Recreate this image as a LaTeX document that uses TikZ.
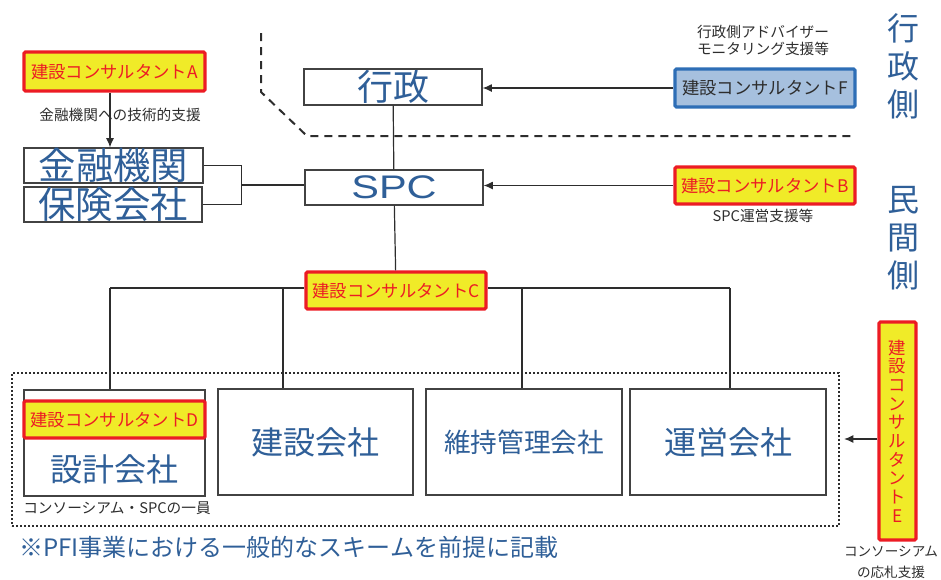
\documentclass[tikz,border=0pt]{standalone}
\usepackage{fontspec}
\setmainfont{Noto Sans CJK JP}
\newfontfamily\latinfont{Liberation Sans}
\usetikzlibrary{arrows.meta,calc}
\definecolor{txtblue}{RGB}{47,95,152}
\definecolor{cred}{RGB}{236,28,36}
\definecolor{cyellow}{RGB}{240,235,40}
\definecolor{fblue}{RGB}{166,192,222}
\definecolor{fborder}{RGB}{46,110,182}
\definecolor{lin}{RGB}{45,45,45}
\newcommand{\fs}[1]{\fontsize{#1}{#1}\selectfont}
\tikzset{
  entity/.style={draw=lin!90, line width=0.9pt, fill=white, inner sep=0pt, text=txtblue},
  consult/.style={draw=cred, line width=2.4pt, fill=cyellow, rounded corners=1pt, inner sep=0pt, text=cred, font=\fs{13}},
  consultF/.style={draw=fborder, line width=2.4pt, fill=fblue, rounded corners=1pt, inner sep=0pt, text=lin, font=\fs{13}},
  conn/.style={draw=lin, line width=0.9pt},
  arr/.style={conn, -{Latex[length=7pt,width=6pt]}},
  small/.style={inner sep=0pt, text=lin, font=\fs{11}},
}
\begin{document}
\begin{tikzpicture}[x=0.75pt,y=-0.75pt]
\useasboundingbox (0,0) rectangle (941,579);
% boundary line between public and private side
\draw[lin, line width=1.5pt, dash pattern=on 6pt off 4.5pt] (261,33) -- (261,92) -- (307,136) -- (852,136);
% consortium dotted box
\node[draw=lin, line width=1.6pt, dash pattern=on 1.4pt off 1.6pt, minimum width=827*0.75pt, minimum height=153*0.75pt, inner sep=0pt] (cons) at (425.5,449.5) {};
% main nodes
\node[entity, minimum width=178*0.75pt, minimum height=36*0.75pt, font=\fs{27}] (gyosei) at (393,87) {行政};
\node[entity, minimum width=178*0.75pt, minimum height=35*0.75pt, font=\latinfont\fs{24.5}] (spc) at (394,187.5) {\scalebox{1.27}[1]{SPC}};
\node[entity, minimum width=179*0.75pt, minimum height=35*0.75pt, font=\fs{28}] (kinyu) at (113.5,165.5) {金融機関};
\node[entity, minimum width=178*0.75pt, minimum height=35*0.75pt, font=\fs{28}] (hoken) at (113,204.5) {保険会社};
\node[entity, minimum width=181*0.75pt, minimum height=106*0.75pt] (sekkei) at (114.5,443) {};
\node[inner sep=0pt, text=txtblue, font=\fs{24}] (sekkeiT) at (114.5,469) {設計会社};
\node[entity, minimum width=195*0.75pt, minimum height=106*0.75pt, font=\fs{24}] (kensetsu) at (315.5,442) {建設会社};
\node[entity, minimum width=196*0.75pt, minimum height=106*0.75pt, font=\fs{20}] (iji) at (524,442) {維持管理会社};
\node[entity, minimum width=196*0.75pt, minimum height=106*0.75pt, font=\fs{24}] (unei) at (728,442) {運営会社};
% consultants
\node[consultF, minimum width=180*0.75pt, minimum height=38*0.75pt] (cF) at (765,88) {建設コンサルタントF};
\node[consult, minimum width=180*0.75pt, minimum height=37*0.75pt] (cB) at (765,185.5) {建設コンサルタントB};
\node[consult, minimum width=181*0.75pt, minimum height=39*0.75pt] (cA) at (114.5,71.5) {建設コンサルタントA};
\node[consult, minimum width=180*0.75pt, minimum height=37*0.75pt] (cC) at (396,290.5) {建設コンサルタントC};
\node[consult, minimum width=181*0.75pt, minimum height=37*0.75pt] (cD) at (114.5,419.5) {建設コンサルタントD};
\node[consult, minimum width=37*0.75pt, minimum height=218*0.75pt, align=center, font=\fontsize{13}{14}\selectfont] (cE) at (897.5,431) {建\\設\\コ\\ン\\サ\\ル\\タ\\ン\\ト\\E};
% side labels
\node[inner sep=0pt, text=txtblue, align=center, font=\fontsize{24}{28.5}\selectfont] (sideG) at (903,66) {行\\政\\側};
\node[inner sep=0pt, text=txtblue, align=center, font=\fontsize{24}{28.5}\selectfont] (sideM) at (903,238) {民\\間\\側};
% small labels
\node[small] (lF1) at (763,32) {行政側アドバイザー};
\node[small] (lF2) at (763,49) {モニタリング支援等};
\node[small] (lB) at (763,216) {SPC運営支援等};
\node[small] (lD) at (117,508) {コンソーシアム・SPCの一員};
\node[small, font=\fs{10.2}] (lE1) at (891,552) {コンソーシアム};
\node[small, font=\fs{10.2}] (lE2) at (891,572) {の応札支援};
\node[inner sep=0pt, anchor=west, text=txtblue, font=\fs{18}] (note) at (19,547) {※PFI事業における一般的なスキームを前提に記載};
% connectors
\draw[conn] (gyosei) -- (spc);
\draw[arr] (cF.west) -- (cF.west -| gyosei.east);
\draw[arr] (cB.west) -- (cB.west -| spc.east);
\coordinate (aTop) at ($(cA.south)+(-4.5,0)$);
\draw[arr] (aTop) -- (aTop |- kinyu.north);
\node[small] (lA) at (120,115) {金融機関への技術的支援};
\draw[conn] (kinyu.east) -- ++(38,0) coordinate (bk1) |- (hoken.east);
\coordinate (bj) at ($(bk1)!0.5!(bk1 |- hoken.east)$);
\draw[conn] (bj) -- (bj -| spc.west);
\draw[conn] (spc) -- (cC);
\coordinate (t1) at (110,288);
\coordinate (t2) at (283,288);
\coordinate (t3) at (522,288);
\coordinate (t4) at (730,288);
\draw[conn] (t1) -- (t1 -| cC.west);
\draw[conn] (t4) -- (t4 -| cC.east);
\draw[conn] (t1) -- (t1 |- sekkei.north);
\draw[conn] (t2) -- (t2 |- kensetsu.north);
\draw[conn] (t3) -- (t3 |- iji.north);
\draw[conn] (t4) -- (t4 |- unei.north);
\coordinate (eA) at ($(cE.west)+(0,8)$);
\draw[arr] (eA) -- ($(eA -| cons.east)+(4,0)$);
\end{tikzpicture}
\end{document}
